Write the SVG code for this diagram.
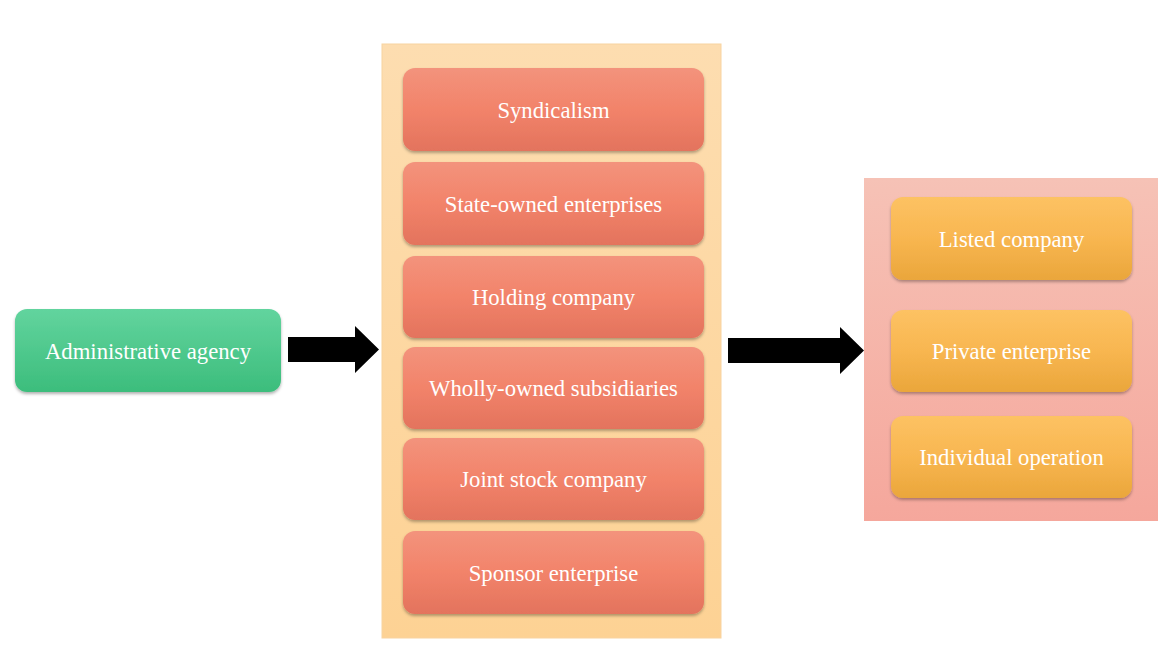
<svg xmlns="http://www.w3.org/2000/svg" width="1168" height="646" viewBox="0 0 1168 646">
<defs>
<linearGradient id="gGreen" x1="0" y1="0" x2="0" y2="1"><stop offset="0" stop-color="#62D49E"/><stop offset="1" stop-color="#3CBD7C"/></linearGradient>
<linearGradient id="gRed" x1="0" y1="0" x2="0" y2="1"><stop offset="0" stop-color="#F3937C"/><stop offset="0.5" stop-color="#F2836A"/><stop offset="1" stop-color="#E3735D"/></linearGradient>
<linearGradient id="gOrange" x1="0" y1="0" x2="0" y2="1"><stop offset="0" stop-color="#FDC263"/><stop offset="0.5" stop-color="#F8B650"/><stop offset="1" stop-color="#EAA63B"/></linearGradient>
<linearGradient id="gMid" x1="0" y1="0" x2="0" y2="1"><stop offset="0" stop-color="#FDDDB0"/><stop offset="1" stop-color="#FDD294"/></linearGradient>
<linearGradient id="gRight" x1="0" y1="0" x2="0" y2="1"><stop offset="0" stop-color="#F6C2B6"/><stop offset="1" stop-color="#F5A79C"/></linearGradient>
<filter id="sh" x="-10%" y="-10%" width="120%" height="130%"><feDropShadow dx="0" dy="2" stdDeviation="1.5" flood-color="#000" flood-opacity="0.3"/></filter>
</defs>
<style>
.t{font-family:"Liberation Serif","Times New Roman",serif;font-size:22.7px;fill:#FFFFFF;text-anchor:middle}
.red{fill:url(#gRed);filter:url(#sh)}
.org{fill:url(#gOrange);filter:url(#sh)}
</style>
<rect width="1168" height="646" fill="#FFFFFF"/>
<g id="container-middle"><rect x="382" y="44" width="339" height="594" fill="url(#gMid)" stroke="#F8D3A0" stroke-width="1"/></g>
<g id="container-right"><rect x="864" y="178" width="294" height="343" fill="url(#gRight)"/></g>
<g id="node-admin"><rect x="15" y="309" width="266" height="83" rx="12" fill="url(#gGreen)" filter="url(#sh)"/><text class="t" x="148" y="359">Administrative agency</text></g>
<g id="node-syndicalism"><rect class="red" x="403" y="68" width="301" height="83" rx="12"/><text class="t" x="553.5" y="118">Syndicalism</text></g>
<g id="node-soe"><rect class="red" x="403" y="162" width="301" height="83" rx="12"/><text class="t" x="553.5" y="212">State-owned enterprises</text></g>
<g id="node-holding"><rect class="red" x="403" y="256" width="301" height="82" rx="12"/><text class="t" x="553.5" y="305">Holding company</text></g>
<g id="node-wholly"><rect class="red" x="403" y="347" width="301" height="82" rx="12"/><text class="t" x="553.5" y="396">Wholly-owned subsidiaries</text></g>
<g id="node-joint"><rect class="red" x="403" y="438" width="301" height="82" rx="12"/><text class="t" x="553.5" y="487">Joint stock company</text></g>
<g id="node-sponsor"><rect class="red" x="403" y="531" width="301" height="83" rx="12"/><text class="t" x="553.5" y="581">Sponsor enterprise</text></g>
<g id="node-listed"><rect class="org" x="891" y="197" width="241" height="83" rx="12"/><text class="t" x="1011.5" y="247">Listed company</text></g>
<g id="node-private"><rect class="org" x="891" y="310" width="241" height="82" rx="12"/><text class="t" x="1011.5" y="359">Private enterprise</text></g>
<g id="node-individual"><rect class="org" x="891" y="416" width="241" height="82" rx="12"/><text class="t" x="1011.5" y="465">Individual operation</text></g>
<g id="connectors" fill="#000000">
<polygon points="288,337 355,337 355,326 379,349.5 355,373 355,362 288,362"/>
<polygon points="728,338 840,338 840,327 864,350.5 840,374 840,363 728,363"/>
</g>
</svg>
